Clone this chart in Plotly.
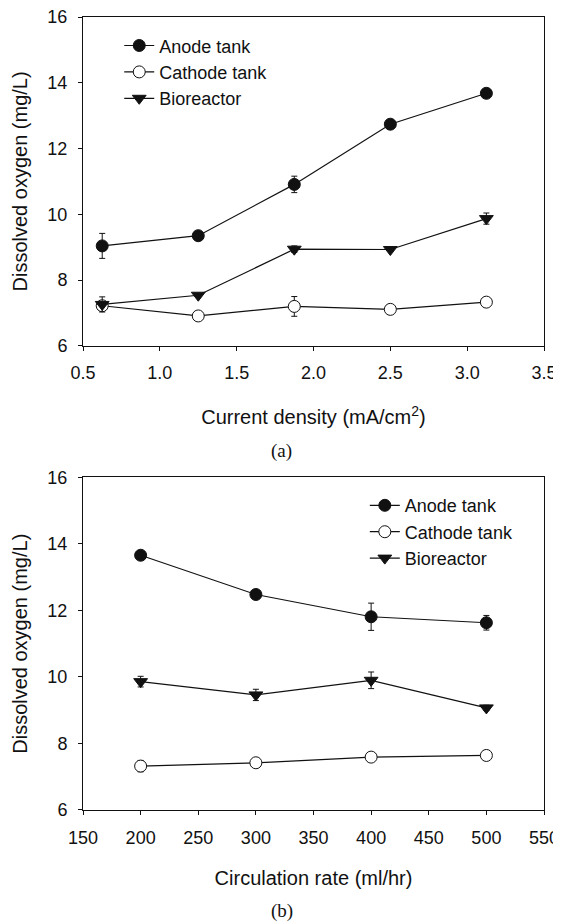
import plotly.graph_objects as go

# ---- data ----
current_density = [0.625, 1.25, 1.875, 2.5, 3.125]
anode_a = [9.04, 9.35, 10.91, 12.74, 13.68]
anode_a_err = [0.38, 0.05, 0.25, 0.05, 0.05]
cathode_a = [7.22, 6.91, 7.20, 7.11, 7.33]
cathode_a_err = [0.15, 0.05, 0.30, 0.05, 0.12]
bio_a = [7.26, 7.54, 8.94, 8.93, 9.87]
bio_a_err = [0.23, 0.05, 0.10, 0.05, 0.17]

circulation_rate = [200, 300, 400, 500]
anode_b = [13.66, 12.48, 11.81, 11.63]
anode_b_err = [0.05, 0.05, 0.41, 0.22]
cathode_b = [7.32, 7.42, 7.59, 7.64]
cathode_b_err = [0.17, 0.05, 0.05, 0.15]
bio_b = [9.86, 9.46, 9.90, 9.07]
bio_b_err = [0.16, 0.17, 0.25, 0.08]

series_names = ["Anode tank", "Cathode tank", "Bioreactor"]

# The page body has an 8px margin, so the figure is drawn 8px in from the
# window's top-left corner; work in window pixels and shift by OFF.
OFF = 8
WIN_W, WIN_H = 561, 924
W, H = WIN_W - OFF, WIN_H - OFF
SANS = "Liberation Sans, Arial, sans-serif"
SERIF = "Liberation Serif, Times New Roman, serif"
INK = "#111111"

# plot area in window pixels (from the reference)
L, R, T, B = 82.7 - OFF, 544.5 - OFF, 16.7 - OFF, 810.0 - OFF
PW, PH = R - L, B - T


def px(xw):
    return (xw - OFF - L) / PW


def py(yw):
    return (B - (yw - OFF)) / PH


markers = [
    dict(symbol="circle", size=12, color=INK, line=dict(color=INK, width=1)),
    dict(symbol="circle", size=12, color="white", line=dict(color=INK, width=1)),
    dict(symbol="triangle-down", size=12, color=INK, line=dict(color=INK, width=1)),
]

fig = go.Figure()


def add_panel(x, ys, errs, xa, ya, legend):
    for name, y, e, mk in zip(series_names, ys, errs, markers):
        fig.add_trace(go.Scatter(
            x=x, y=y, name=name, mode="lines+markers",
            line=dict(color=INK, width=1.2),
            marker=mk,
            error_y=dict(type="data", array=e, visible=True, color=INK,
                         thickness=1, width=3),
            xaxis=xa, yaxis=ya, legend=legend,
        ))


add_panel(current_density, [anode_a, cathode_a, bio_a],
          [anode_a_err, cathode_a_err, bio_a_err], "x", "y", "legend")
add_panel(circulation_rate, [anode_b, cathode_b, bio_b],
          [anode_b_err, cathode_b_err, bio_b_err], "x2", "y2", "legend2")

ydom_a = [py(345.7), 1]
ydom_b = [0, py(477.3)]

axis_common = dict(
    showline=True, mirror=True, linecolor=INK, linewidth=1,
    ticks="outside", ticklen=4, tickwidth=1, tickcolor=INK,
    showgrid=False, zeroline=False, automargin=False,
    ticklabelstandoff=7, ticklabeloverflow="allow",
    tickfont=dict(family=SANS, size=18, color=INK),
)
title_font = dict(family=SANS, size=20, color=INK)

fig.update_layout(
    template="none",
    width=W, height=H,
    margin=dict(l=L, r=W - R, t=T, b=H - B, pad=0),
    paper_bgcolor="white", plot_bgcolor="white",
    font=dict(family=SANS, color=INK),
    showlegend=True,
    xaxis=dict(domain=[0, 1], range=[0.5, 3.5], tick0=0.5, dtick=0.5,
               tickformat=".1f", anchor="y",
               title=dict(text="Current density (mA/cm<sup>2</sup>)",
                          font=title_font, standoff=27),
               **axis_common),
    yaxis=dict(domain=ydom_a, range=[6, 16], tick0=6, dtick=2, anchor="x",
               title=dict(text="Dissolved oxygen (mg/L)",
                          font=title_font, standoff=14),
               **axis_common),
    xaxis2=dict(domain=[0, 1], range=[150, 550], tick0=150, dtick=50,
                anchor="y2",
                title=dict(text="Circulation rate (ml/hr)",
                           font=title_font, standoff=24),
                **axis_common),
    yaxis2=dict(domain=ydom_b, range=[6, 16], tick0=6, dtick=2, anchor="x2",
                title=dict(text="Dissolved oxygen (mg/L)",
                           font=title_font, standoff=14),
                **axis_common),
    legend=dict(x=px(119), y=py(27), xanchor="left", yanchor="top",
                bgcolor="rgba(0,0,0,0)", borderwidth=0,
                font=dict(family=SANS, size=18, color=INK)),
    legend2=dict(x=px(365), y=py(487), xanchor="left", yanchor="top",
                 bgcolor="rgba(0,0,0,0)", borderwidth=0,
                 font=dict(family=SANS, size=18, color=INK)),
    annotations=[
        dict(text="(a)", x=px(282), y=py(451), xref="paper", yref="paper",
             xanchor="center", yanchor="middle",
             showarrow=False, font=dict(family=SERIF, size=19, color=INK)),
        dict(text="(b)", x=px(282), y=py(911.5), xref="paper", yref="paper",
             xanchor="center", yanchor="middle",
             showarrow=False, font=dict(family=SERIF, size=19, color=INK)),
    ],
)

fig.write_html("out.html")
